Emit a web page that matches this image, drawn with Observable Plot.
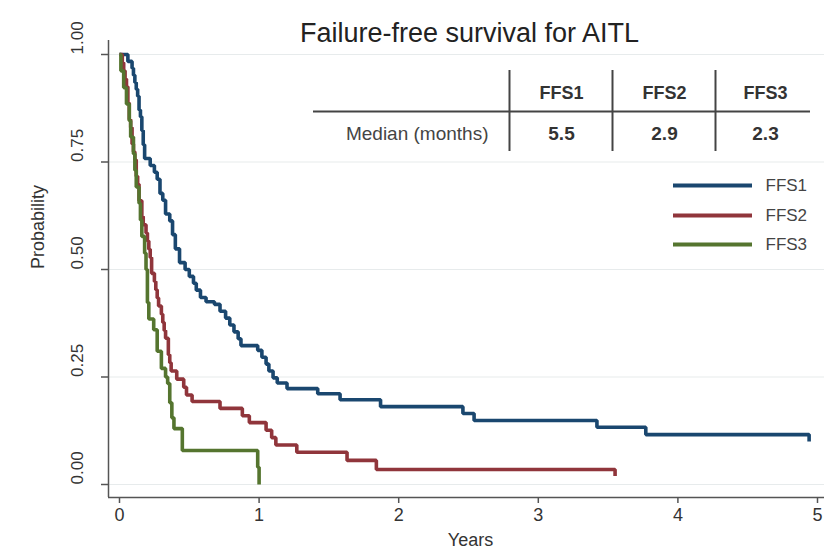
<!DOCTYPE html>
<html><head><meta charset="utf-8">
<script src="https://cdn.jsdelivr.net/npm/d3@7"></script>
<script src="https://cdn.jsdelivr.net/npm/@observablehq/plot@0.6"></script>
<style>
body{margin:0;background:#fff}
#chart svg{display:block}
</style>
</head><body><div id="chart"></div>
<script>
// ---------------- data ----------------
const seriesNames = ["FFS1", "FFS2", "FFS3"];
const seriesColors = ["#1a476f", "#90353b", "#55752f"];

const ffs1Time = [0, 0.06, 0.09, 0.10, 0.11, 0.12, 0.13, 0.14, 0.15, 0.16, 0.17, 0.18, 0.22, 0.25, 0.27, 0.29, 0.31, 0.33, 0.36, 0.38, 0.40, 0.43, 0.47, 0.50, 0.53, 0.55, 0.58, 0.62, 0.68, 0.72, 0.76, 0.79, 0.82, 0.85, 0.87, 0.99, 1.02, 1.05, 1.07, 1.10, 1.13, 1.20, 1.42, 1.58, 1.87, 2.46, 2.54, 3.42, 3.77, 4.94];
const ffs1Surv = [1.0, 0.984, 0.968, 0.952, 0.935, 0.919, 0.903, 0.871, 0.855, 0.823, 0.790, 0.758, 0.742, 0.726, 0.710, 0.677, 0.661, 0.629, 0.613, 0.581, 0.548, 0.516, 0.500, 0.484, 0.468, 0.452, 0.435, 0.425, 0.419, 0.403, 0.387, 0.371, 0.355, 0.339, 0.323, 0.312, 0.296, 0.280, 0.264, 0.248, 0.236, 0.223, 0.211, 0.197, 0.181, 0.165, 0.149, 0.133, 0.116, 0.100];

const ffs2Time = [0, 0.02, 0.03, 0.04, 0.05, 0.06, 0.07, 0.08, 0.09, 0.10, 0.11, 0.12, 0.13, 0.14, 0.16, 0.17, 0.19, 0.20, 0.21, 0.22, 0.23, 0.25, 0.26, 0.27, 0.28, 0.30, 0.31, 0.32, 0.33, 0.35, 0.36, 0.37, 0.41, 0.46, 0.48, 0.52, 0.72, 0.88, 0.93, 1.05, 1.09, 1.12, 1.27, 1.63, 1.84, 3.55];
const ffs2Surv = [1.0, 0.981, 0.962, 0.943, 0.925, 0.887, 0.849, 0.830, 0.792, 0.774, 0.755, 0.717, 0.698, 0.660, 0.623, 0.604, 0.585, 0.566, 0.547, 0.528, 0.491, 0.472, 0.453, 0.434, 0.415, 0.396, 0.377, 0.358, 0.340, 0.302, 0.283, 0.264, 0.245, 0.226, 0.208, 0.193, 0.177, 0.160, 0.144, 0.126, 0.109, 0.092, 0.075, 0.056, 0.035, 0.020];

const ffs3Time = [0, 0.01, 0.03, 0.05, 0.07, 0.08, 0.10, 0.11, 0.12, 0.14, 0.15, 0.16, 0.18, 0.19, 0.20, 0.21, 0.245, 0.27, 0.30, 0.33, 0.345, 0.36, 0.375, 0.39, 0.45, 0.99, 1.0];
const ffs3Surv = [1.0, 0.962, 0.923, 0.885, 0.846, 0.808, 0.769, 0.731, 0.692, 0.654, 0.615, 0.577, 0.538, 0.500, 0.423, 0.385, 0.360, 0.310, 0.270, 0.250, 0.235, 0.190, 0.155, 0.130, 0.079, 0.040, 0.0];

const xTicks = [0, 1, 2, 3, 4, 5];
const yTicks = [0, 0.25, 0.5, 0.75, 1];
const tableHeaders = ["FFS1", "FFS2", "FFS3"];
const tableRowLabel = "Median (months)";
const tableMedians = ["5.5", "2.9", "2.3"];
const titleText = "Failure-free survival for AITL";
const xLabel = "Years";
const yLabel = "Probability";

// ---------------- layout ----------------
const W = 826, H = 552;
const mL = 108, mR = 2, mT = 40, mB = 55;
const X0PX = 119, PXX = 139.6;   // pixel of x=0, pixels per year
const Y0PX = 484, PXY = 430;     // pixel of y=0, pixels per unit
const px2x = px => (px - X0PX) / PXX;
const py2y = py => (Y0PX - py) / PXY;
const xDomain = [px2x(mL), px2x(W - mR)];
const yDomain = [py2y(H - mB), py2y(mT)];

const font = "Liberation Sans, Arial, Helvetica, sans-serif";
const textColor = "#333";
const axisColor = "#555";

const survData = [
  ...ffs1Time.map((t, i) => ({series: "FFS1", t, s: ffs1Surv[i]})),
  ...ffs2Time.map((t, i) => ({series: "FFS2", t, s: ffs2Surv[i]})),
  ...ffs3Time.map((t, i) => ({series: "FFS3", t, s: ffs3Surv[i]}))
];

// table layout (pixels)
const colPx = [561, 664, 765];
const colLinePx = [509, 612, 715];
const headerPy = 93, rowPy = 133, tableLinePy = 111;
const headerCells = tableHeaders.map((h, i) => ({text: h, x: px2x(colPx[i])}));
const valueCells = tableMedians.map((v, i) => ({text: v, x: px2x(colPx[i])}));

// legend layout (pixels)
const legendPy = [185, 215, 244];
const legendItems = seriesNames.map((s, i) => ({series: s, y: py2y(legendPy[i])}));

const plot = Plot.plot({
  width: W, height: H,
  marginLeft: mL, marginRight: mR, marginTop: mT, marginBottom: mB,
  style: {fontFamily: font, background: "#fff", overflow: "visible"},
  x: {domain: xDomain, axis: null},
  y: {domain: yDomain, axis: null},
  color: {domain: seriesNames, range: seriesColors},
  marks: [
    // gridlines
    Plot.ruleY(yTicks, {stroke: "#e7ebec", strokeWidth: 1.2}),
    // axes lines
    Plot.ruleY([yDomain[0]], {stroke: axisColor, strokeWidth: 1.5}),
    Plot.ruleX([xDomain[0]], {stroke: axisColor, strokeWidth: 1.5}),
    // y ticks
    Plot.ruleY(yTicks, {x1: px2x(101), x2: xDomain[0], stroke: axisColor, strokeWidth: 1.5}),
    Plot.text(yTicks, {y: d => d, frameAnchor: "left", dx: -31, rotate: -90, text: d => d.toFixed(2), fontSize: 17, fill: textColor}),
    // x ticks
    Plot.ruleX(xTicks, {y1: yDomain[0], y2: py2y(503), stroke: axisColor, strokeWidth: 1.5}),
    Plot.text(xTicks, {x: d => d, frameAnchor: "bottom", dy: 23, text: d => String(d), fontSize: 18, fill: textColor}),
    // axis titles
    Plot.text([yLabel], {frameAnchor: "left", dx: -70, rotate: -90, fontSize: 18, fill: textColor}),
    Plot.text([xLabel], {frameAnchor: "bottom", dx: 4, dy: 48, fontSize: 18, fill: textColor}),
    // title
    Plot.text([titleText], {frameAnchor: "top", dx: 3, dy: -18, fontSize: 27, fill: "#222"}),
    // survival curves
    Plot.line(survData, {x: "t", y: "s", z: "series", stroke: "series", curve: "step-after", strokeWidth: 3.6, strokeLinejoin: "miter", strokeLinecap: "butt"}),
    // table
    Plot.ruleY([py2y(tableLinePy)], {x1: px2x(313), x2: px2x(810), stroke: "#444", strokeWidth: 2}),
    Plot.ruleX(colLinePx, {x: d => px2x(d), y1: py2y(70), y2: py2y(151), stroke: "#444", strokeWidth: 2}),
    Plot.text(headerCells, {x: "x", y: py2y(headerPy), text: "text", fontSize: 18, fontWeight: "bold", fill: "#333"}),
    Plot.text(valueCells, {x: "x", y: py2y(rowPy), text: "text", fontSize: 19, fontWeight: "bold", fill: "#333"}),
    Plot.text([tableRowLabel], {x: px2x(488), y: py2y(rowPy), textAnchor: "end", fontSize: 19, fill: "#444"}),
    // legend
    Plot.ruleY(legendItems, {y: "y", x1: px2x(673), x2: px2x(752), stroke: "series", strokeWidth: 4}),
    Plot.text(legendItems, {y: "y", x: px2x(765), text: "series", textAnchor: "start", fontSize: 17, fill: "#444"})
  ]
});
document.getElementById("chart").append(plot);
</script>
</body></html>
